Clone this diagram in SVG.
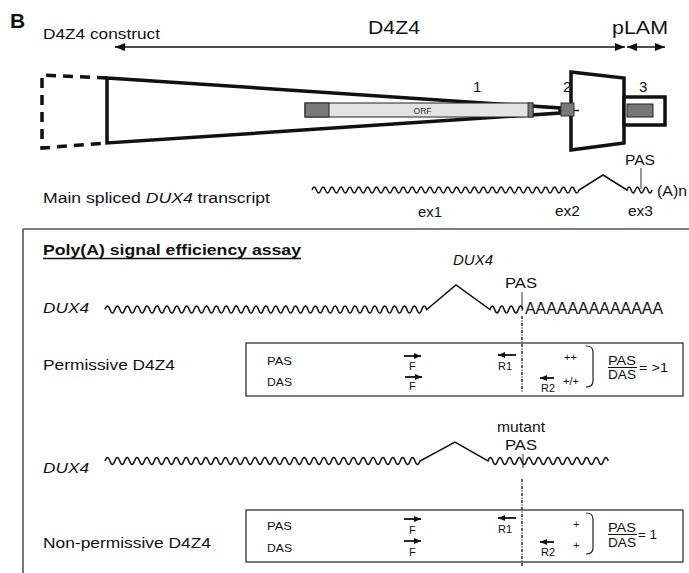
<svg xmlns="http://www.w3.org/2000/svg" width="689" height="573" viewBox="0 0 689 573">
<style>
text{font-family:"Liberation Sans",Arial,Helvetica,sans-serif;fill:#111}
.it{font-style:italic}
.wave{fill:none;stroke:#111;stroke-width:1.5;stroke-linejoin:miter}
.thin{fill:none;stroke:#222;stroke-width:1.2}
.thick{fill:#fff;stroke:#111;stroke-width:3.5;stroke-linejoin:miter}
.prm{fill:none;stroke:#111;stroke-width:1.8;marker-end:url(#sa)}
.dot{fill:none;stroke:#111;stroke-width:1.3;stroke-dasharray:3,1.5,1,1.5}
.sm{font-size:11px}
</style>
<defs>
<marker id="ah" viewBox="0 0 10 8" refX="10" refY="4" markerWidth="10" markerHeight="8" orient="auto-start-reverse" markerUnits="userSpaceOnUse"><path d="M0,0 L10,4 L0,8 z" fill="#111"/></marker>
<marker id="sa" viewBox="0 0 7 6" refX="7" refY="3" markerWidth="7" markerHeight="6" orient="auto" markerUnits="userSpaceOnUse"><path d="M0,0 L7,3 L0,6 z" fill="#111"/></marker>
</defs>

<text x="10" y="28" font-size="21" font-weight="bold">B</text>

<g id="construct-header">
<text x="43" y="39" font-size="15.5" textLength="117" lengthAdjust="spacingAndGlyphs">D4Z4 construct</text>
<text x="368" y="34" font-size="19" textLength="52" lengthAdjust="spacingAndGlyphs">D4Z4</text>
<text x="612" y="34" font-size="19" textLength="56" lengthAdjust="spacingAndGlyphs">pLAM</text>
</g>

<g id="connectors">
<path d="M115,47 L625,47" stroke="#111" stroke-width="1.6" marker-start="url(#ah)" marker-end="url(#ah)"/>
<path d="M627,47 L665,47" stroke="#111" stroke-width="1.6" marker-start="url(#ah)" marker-end="url(#ah)"/>
</g>

<g id="construct">
<path d="M107,78 L42,75 L42,148 L107,143" fill="none" stroke="#111" stroke-width="3.5" stroke-dasharray="10,7"/>
<polygon points="107,78 560,108 560,113 107,143" class="thick" stroke-width="3"/>
<rect x="305" y="103" width="228" height="14" fill="#e3e3e3" stroke="#222" stroke-width="1"/>
<rect x="305" y="103" width="24" height="14" fill="#7a7a7a" stroke="#222" stroke-width="1"/>
<rect x="528" y="103" width="5" height="14" fill="#777" stroke="#222" stroke-width="0.8"/>
<text x="422.5" y="113.5" font-size="8.5" text-anchor="middle" fill="#333" style="fill:#333">ORF</text>
<polygon points="571,72 624,78 624,143 571,150" class="thick"/>
<rect x="561" y="103" width="13" height="13" fill="#7a7a7a" stroke="#333" stroke-width="1"/>
<path d="M574,110.5 L579,110.5" stroke="#111" stroke-width="1.5"/>
<rect x="624" y="97" width="41" height="28" class="thick"/>
<rect x="627" y="104" width="26" height="13" fill="#777" stroke="#222" stroke-width="1"/>
<text x="473" y="92" font-size="15">1</text>
<text x="563" y="92" font-size="15">2</text>
<text x="639" y="92" font-size="15">3</text>
</g>

<g id="transcript">
<text x="43" y="203" font-size="15.5" textLength="227" lengthAdjust="spacingAndGlyphs">Main spliced <tspan class="it">DUX4</tspan> transcript</text>
<path class="wave" d="M312,190 q2.225,-6 4.45,0 t4.45,0 4.45,0 4.45,0 4.45,0 4.45,0 4.45,0 4.45,0 4.45,0 4.45,0 4.45,0 4.45,0 4.45,0 4.45,0 4.45,0 4.45,0 4.45,0 4.45,0 4.45,0 4.45,0 4.45,0 4.45,0 4.45,0 4.45,0 4.45,0 4.45,0 4.45,0 4.45,0 4.45,0 4.45,0 4.45,0 4.45,0 4.45,0 4.45,0 4.45,0 4.45,0 4.45,0 4.45,0 4.45,0 4.45,0 4.45,0 4.45,0 4.45,0 4.45,0 4.45,0 4.45,0 4.45,0 4.45,0 4.45,0 4.45,0 4.45,0 4.45,0 4.45,0 4.45,0 4.45,0 4.45,0 4.45,0 4.45,0 4.45,0 4.45,0 L603,175 L627,190 q2.08,-6 4.17,0 t4.17,0 4.17,0 4.17,0 4.17,0 4.17,0" stroke-width="1.6"/>
<text x="625" y="165" font-size="14" textLength="30" lengthAdjust="spacingAndGlyphs">PAS</text>
<path d="M641,168 L641,189" stroke="#555" stroke-width="1.2"/>
<text x="657" y="196" font-size="14" textLength="30" lengthAdjust="spacingAndGlyphs">(A)n</text>
<text x="418" y="217" font-size="14" textLength="24" lengthAdjust="spacingAndGlyphs">ex1</text>
<text x="555" y="216" font-size="14" textLength="25" lengthAdjust="spacingAndGlyphs">ex2</text>
<text x="628" y="216" font-size="14" textLength="25" lengthAdjust="spacingAndGlyphs">ex3</text>
</g>

<g id="assay-frame">
<path d="M23,229 H689 M23,229 V573" fill="none" stroke="#555" stroke-width="1.6"/>
<text x="43" y="255" font-size="14" font-weight="bold" textLength="258" lengthAdjust="spacingAndGlyphs">Poly(A) signal efficiency assay</text>
<path d="M43,258.5 H301" stroke="#111" stroke-width="1.3"/>
</g>

<g id="dux4-permissive">
<text x="453" y="265" font-size="14" class="it" textLength="40" lengthAdjust="spacingAndGlyphs">DUX4</text>
<text x="505" y="288" font-size="15" textLength="32" lengthAdjust="spacingAndGlyphs">PAS</text>
<path d="M522,292 L522,311" stroke="#555" stroke-width="1.2"/>
<text x="43" y="313" font-size="15" class="it" textLength="46" lengthAdjust="spacingAndGlyphs">DUX4</text>
<path class="wave" d="M105,309.5 q2.475,-7 4.95,0 t4.95,0 4.95,0 4.95,0 4.95,0 4.95,0 4.95,0 4.95,0 4.95,0 4.95,0 4.95,0 4.95,0 4.95,0 4.95,0 4.95,0 4.95,0 4.95,0 4.95,0 4.95,0 4.95,0 4.95,0 4.95,0 4.95,0 4.95,0 4.95,0 4.95,0 4.95,0 4.95,0 4.95,0 4.95,0 4.95,0 4.95,0 4.95,0 4.95,0 4.95,0 4.95,0 4.95,0 4.95,0 4.95,0 4.95,0 4.95,0 4.95,0 4.95,0 4.95,0 4.95,0 4.95,0 4.95,0 4.95,0 4.95,0 4.95,0 4.95,0 4.95,0 4.95,0 4.95,0 4.95,0 4.95,0 4.95,0 4.95,0 4.95,0 4.95,0 4.95,0 4.95,0 4.95,0 4.95,0 4.95,0 L456,285 L490,309.5 q2.355,-7 4.71,0 t4.71,0 4.71,0 4.71,0 4.71,0 4.71,0 4.71,0"/>
<text x="525" y="314" font-size="16" textLength="138" lengthAdjust="spacingAndGlyphs">AAAAAAAAAAAAA</text>
</g>

<g id="box-permissive">
<text x="43" y="370" font-size="15" textLength="132" lengthAdjust="spacingAndGlyphs">Permissive D4Z4</text>
<rect x="246" y="343" width="437" height="53" class="thin"/>
<text x="267" y="365" class="sm" textLength="25" lengthAdjust="spacingAndGlyphs">PAS</text>
<text x="267" y="386" class="sm" textLength="25" lengthAdjust="spacingAndGlyphs">DAS</text>
<path class="prm" d="M404,356 L421,356"/>
<text x="409" y="370" class="sm">F</text>
<path class="prm" d="M405,377 L422,377"/>
<text x="409" y="390" class="sm">F</text>
<path class="prm" d="M516,355 L498,355"/>
<text x="498" y="370" class="sm">R1</text>
<path class="prm" d="M554,378 L540,378"/>
<text x="541" y="392" class="sm">R2</text>
<text x="564" y="361" class="sm">++</text>
<text x="563" y="385" class="sm">+/+</text>
<path d="M586,346 Q593,346 593,352 L593,381 Q593,387 586,387" class="thin"/>
<text x="608" y="365" font-size="12" textLength="28" lengthAdjust="spacingAndGlyphs">PAS</text>
<path d="M608,367.5 H637" stroke="#111" stroke-width="1"/>
<text x="608" y="379" font-size="12" textLength="28" lengthAdjust="spacingAndGlyphs">DAS</text>
<text x="639" y="372" font-size="12" textLength="29" lengthAdjust="spacingAndGlyphs">= &gt;1</text>
<path class="dot" d="M522,316 L522,393"/>
</g>

<g id="dux4-mutant">
<text x="497" y="432" font-size="15" textLength="48" lengthAdjust="spacingAndGlyphs">mutant</text>
<text x="505" y="450" font-size="15" textLength="32" lengthAdjust="spacingAndGlyphs">PAS</text>
<path d="M523,454 L523,468" stroke="#555" stroke-width="1.2"/>
<text x="43" y="473" font-size="15" class="it" textLength="46" lengthAdjust="spacingAndGlyphs">DUX4</text>
<path class="wave" d="M105,461 q2.46,-7 4.92,0 t4.92,0 4.92,0 4.92,0 4.92,0 4.92,0 4.92,0 4.92,0 4.92,0 4.92,0 4.92,0 4.92,0 4.92,0 4.92,0 4.92,0 4.92,0 4.92,0 4.92,0 4.92,0 4.92,0 4.92,0 4.92,0 4.92,0 4.92,0 4.92,0 4.92,0 4.92,0 4.92,0 4.92,0 4.92,0 4.92,0 4.92,0 4.92,0 4.92,0 4.92,0 4.92,0 4.92,0 4.92,0 4.92,0 4.92,0 4.92,0 4.92,0 4.92,0 4.92,0 4.92,0 4.92,0 4.92,0 4.92,0 4.92,0 4.92,0 4.92,0 4.92,0 4.92,0 4.92,0 4.92,0 4.92,0 4.92,0 4.92,0 4.92,0 4.92,0 4.92,0 4.92,0 4.92,0 4.92,0 L455,442 L488,461 q2.405,-7 4.81,0 t4.81,0 4.81,0 4.81,0 4.81,0 4.81,0 4.81,0 4.81,0 4.81,0 4.81,0 4.81,0 4.81,0 4.81,0 4.81,0 4.81,0 4.81,0 4.81,0 4.81,0 4.81,0 4.81,0 4.81,0 4.81,0 4.81,0 4.81,0 4.81,0"/>
</g>

<g id="box-nonpermissive">
<text x="43" y="548" font-size="15" textLength="168" lengthAdjust="spacingAndGlyphs">Non-permissive D4Z4</text>
<rect x="246" y="510" width="437" height="52" class="thin"/>
<text x="267" y="530" class="sm" textLength="25" lengthAdjust="spacingAndGlyphs">PAS</text>
<text x="267" y="552" class="sm" textLength="25" lengthAdjust="spacingAndGlyphs">DAS</text>
<path class="prm" d="M404,519 L421,519"/>
<text x="409" y="534" class="sm">F</text>
<path class="prm" d="M404,541 L421,541"/>
<text x="409" y="556" class="sm">F</text>
<path class="prm" d="M516,518 L498,518"/>
<text x="498" y="533" class="sm">R1</text>
<path class="prm" d="M554,542 L540,542"/>
<text x="541" y="556" class="sm">R2</text>
<text x="573" y="528" class="sm">+</text>
<text x="573" y="549" class="sm">+</text>
<path d="M586,513 Q593,513 593,519 L593,548 Q593,554 586,554" class="thin"/>
<text x="608" y="532" font-size="12" textLength="28" lengthAdjust="spacingAndGlyphs">PAS</text>
<path d="M608,534.5 H637" stroke="#111" stroke-width="1"/>
<text x="608" y="547" font-size="12" textLength="28" lengthAdjust="spacingAndGlyphs">DAS</text>
<text x="638" y="539" font-size="12" textLength="19" lengthAdjust="spacingAndGlyphs">= 1</text>
<path class="dot" d="M522,479 L522,566"/>
</g>
</svg>
